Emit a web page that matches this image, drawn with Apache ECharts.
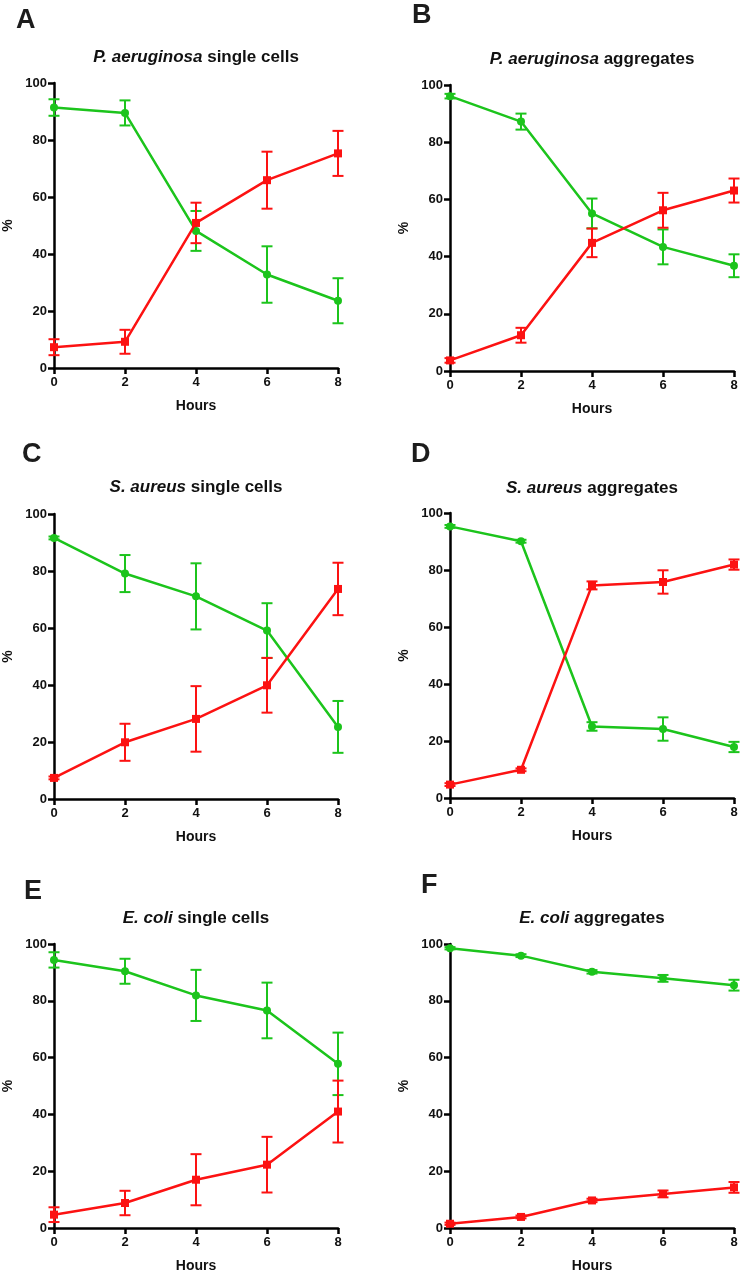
<!DOCTYPE html>
<html><head><meta charset="utf-8">
<script src="https://cdn.jsdelivr.net/npm/echarts@6/dist/echarts.min.js"></script>
<style>html,body{margin:0;padding:0;background:#fff}#c{width:741px;height:1276px}</style>
</head><body><div id="c"></div>
<script>
// ---------- DATA ----------
const hours = [0, 2, 4, 6, 8];
const xTickLabels = ['0', '2', '4', '6', '8'];
const yTickLabels = ['0', '20', '40', '60', '80', '100'];
const panelLetters = ['A', 'B', 'C', 'D', 'E', 'F'];
const titleSpecies = ['P. aeruginosa', 'P. aeruginosa', 'S. aureus', 'S. aureus', 'E. coli', 'E. coli'];
const titleKind = ['single cells', 'aggregates', 'single cells', 'aggregates', 'single cells', 'aggregates'];

const aGreen = [91.4, 89.5, 48.1, 32.8, 23.6];
const aGreenErr = [2.9, 4.4, 7.0, 9.9, 7.9];
const aRed = [7.3, 9.2, 50.9, 65.9, 75.3];
const aRedErr = [2.8, 4.2, 7.1, 10.0, 7.9];

const bGreen = [96.1, 87.2, 55.1, 43.4, 36.8];
const bGreenErr = [0.8, 2.8, 5.2, 6.1, 4.0];
const bRed = [3.7, 12.5, 44.8, 56.2, 63.1];
const bRedErr = [0.8, 2.6, 5.0, 6.1, 4.2];

const cGreen = [91.6, 79.1, 71.1, 59.1, 25.3];
const cGreenErr = [0.5, 6.5, 11.6, 9.6, 9.1];
const cRed = [7.4, 19.9, 28.1, 39.9, 73.7];
const cRedErr = [0.5, 6.5, 11.5, 9.6, 9.2];

const dGreen = [95.3, 90.1, 25.1, 24.2, 17.9];
const dGreenErr = [0.5, 0.5, 1.5, 4.1, 1.8];
const dRed = [4.7, 9.9, 74.6, 75.8, 81.9];
const dRedErr = [0.5, 0.5, 1.4, 4.1, 1.8];

const eGreen = [94.4, 90.4, 81.9, 76.6, 57.8];
const eGreenErr = [2.7, 4.4, 9.0, 9.8, 11.0];
const eRed = [4.7, 8.8, 17.0, 22.3, 41.0];
const eRedErr = [2.6, 4.3, 9.0, 9.8, 10.9];

const fGreen = [98.5, 95.9, 90.2, 87.9, 85.5];
const fGreenErr = [0.4, 0.5, 0.6, 1.2, 1.9];
const fRed = [1.5, 3.9, 9.7, 12.0, 14.3];
const fRedErr = [0.4, 0.5, 0.6, 1.2, 1.9];

const greenSeries = [aGreen, bGreen, cGreen, dGreen, eGreen, fGreen];
const greenErrors = [aGreenErr, bGreenErr, cGreenErr, dGreenErr, eGreenErr, fGreenErr];
const redSeries = [aRed, bRed, cRed, dRed, eRed, fRed];
const redErrors = [aRedErr, bRedErr, cRedErr, dRedErr, eRedErr, fRedErr];

// ---------- LAYOUT / STYLE ----------
const FONT = '"Liberation Sans", Arial, Helvetica, sans-serif';
const GREEN = '#1cc41c';
const RED = '#fc1212';
const grids = [
  {left: 54, top: 83, width: 284, height: 285},
  {left: 450, top: 85, width: 284, height: 286},
  {left: 54, top: 514, width: 284, height: 285},
  {left: 450, top: 513, width: 284, height: 285},
  {left: 54, top: 944, width: 284, height: 284},
  {left: 450, top: 944, width: 284, height: 284}
];
const titleY = [57, 59, 487, 488, 918, 918];
const letterPos = [[16, 21], [412, 16], [22, 455], [411, 455], [24, 892], [421, 886]];

function errRender(params, api) {
  const x = api.value(0), y = api.value(1), e = api.value(2);
  const top = api.coord([x, y + e]);
  const bot = api.coord([x, y - e]);
  const hw = 5.5;
  const style = {stroke: api.visual('color'), lineWidth: 2, fill: null};
  return {type: 'group', children: [
    {type: 'line', shape: {x1: top[0], y1: top[1], x2: bot[0], y2: bot[1]}, style: style},
    {type: 'line', shape: {x1: top[0] - hw, y1: top[1], x2: top[0] + hw, y2: top[1]}, style: style},
    {type: 'line', shape: {x1: bot[0] - hw, y1: bot[1], x2: bot[0] + hw, y2: bot[1]}, style: style}
  ]};
}

const option = {
  backgroundColor: '#fff',
  animation: false,
  grid: grids.map(g => Object.assign({containLabel: false}, g)),
  title: [],
  graphic: [],
  xAxis: [],
  yAxis: [],
  series: []
};

for (let p = 0; p < 6; p++) {
  const g = grids[p];
  option.title.push({
    text: '{i|' + titleSpecies[p] + '} ' + titleKind[p],
    left: g.left + g.width / 2,
    top: titleY[p],
    textAlign: 'center',
    textVerticalAlign: 'middle',
    padding: 0,
    textStyle: {
      fontFamily: FONT, fontSize: 17, fontWeight: 'bold', color: '#111',
      rich: {i: {fontFamily: FONT, fontSize: 17, fontWeight: 'bold', fontStyle: 'italic', color: '#111'}}
    }
  });
  option.graphic.push({
    type: 'text',
    x: letterPos[p][0], y: letterPos[p][1],
    style: {text: panelLetters[p], font: 'bold 27px ' + FONT, fill: '#1c1c1c', align: 'left', verticalAlign: 'middle'}
  });
  option.xAxis.push({
    type: 'value', gridIndex: p, min: 0, max: 8, interval: 2,
    name: 'Hours', nameLocation: 'middle', nameGap: 31,
    nameTextStyle: {fontFamily: FONT, fontSize: 14, fontWeight: 'bold', color: '#111'},
    axisLine: {show: true, onZero: false, lineStyle: {color: '#000', width: 2.5}},
    axisTick: {show: true, inside: false, length: 6, lineStyle: {color: '#000', width: 2.5}},
    axisLabel: {fontFamily: FONT, fontSize: 13, fontWeight: 'bold', color: '#111', margin: 8,
      formatter: v => xTickLabels[hours.indexOf(v)] ?? String(v)},
    splitLine: {show: false}
  });
  option.yAxis.push({
    type: 'value', gridIndex: p, min: 0, max: 100, interval: 20,
    name: '%', nameLocation: 'middle', nameGap: 39, nameRotate: 90,
    nameTextStyle: {fontFamily: FONT, fontSize: 14, fontWeight: 'bold', color: '#111'},
    axisLine: {show: true, onZero: false, lineStyle: {color: '#000', width: 2.5}},
    axisTick: {show: true, inside: false, length: 6, lineStyle: {color: '#000', width: 2.5}},
    axisLabel: {fontFamily: FONT, fontSize: 13, fontWeight: 'bold', color: '#111', margin: 7,
      formatter: v => yTickLabels[v / 20] ?? String(v)},
    splitLine: {show: false}
  });
  const gData = hours.map((h, i) => [h, greenSeries[p][i]]);
  const rData = hours.map((h, i) => [h, redSeries[p][i]]);
  const gErr = hours.map((h, i) => [h, greenSeries[p][i], greenErrors[p][i]]);
  const rErr = hours.map((h, i) => [h, redSeries[p][i], redErrors[p][i]]);
  option.series.push(
    {type: 'custom', xAxisIndex: p, yAxisIndex: p, renderItem: errRender, data: gErr,
      itemStyle: {color: GREEN}, z: 2, clip: false, silent: true},
    {type: 'custom', xAxisIndex: p, yAxisIndex: p, renderItem: errRender, data: rErr,
      itemStyle: {color: RED}, z: 2, clip: false, silent: true},
    {type: 'line', xAxisIndex: p, yAxisIndex: p, data: gData, symbol: 'circle', symbolSize: 8,
      lineStyle: {color: GREEN, width: 2.5}, itemStyle: {color: GREEN}, z: 3},
    {type: 'line', xAxisIndex: p, yAxisIndex: p, data: rData, symbol: 'rect', symbolSize: 8,
      lineStyle: {color: RED, width: 2.5}, itemStyle: {color: RED}, z: 4}
  );
}

const chart = echarts.init(document.getElementById('c'), null, {renderer: 'canvas'});
chart.setOption(option);
</script>
</body></html>
